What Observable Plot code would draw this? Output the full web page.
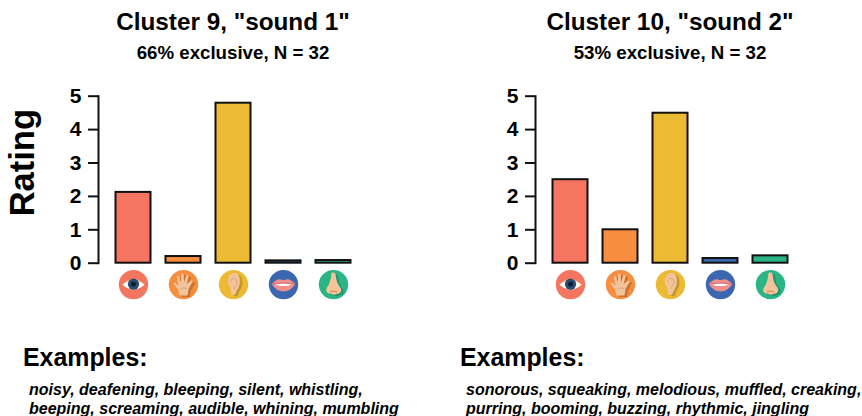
<!DOCTYPE html>
<html><head><meta charset="utf-8">
<script src="https://cdn.jsdelivr.net/npm/d3@7"></script>
<script src="https://cdn.jsdelivr.net/npm/@observablehq/plot@0.6"></script>
<style>
html,body{margin:0;padding:0;background:#fff}
#chart{position:relative;width:862px;height:416px;overflow:hidden;font-family:"Liberation Sans",Arial,sans-serif;color:#000}
.panel{position:absolute;top:0;width:425px;height:416px}
.panel svg{position:absolute;left:0;top:0}
.t{position:absolute;white-space:nowrap;font-weight:bold}
.title{left:0;width:466px;text-align:center;top:8px;font-size:24.3px;line-height:28px}
.sub{left:0;width:466px;text-align:center;top:42px;font-size:18.7px;line-height:22px}
.ex{left:23px;top:343px;font-size:24.9px;line-height:28px}
.words{left:29px;top:380px;font-size:16px;line-height:19px;font-style:italic}
</style></head><body><div id="chart"></div>
<script>
const senses = ["sight","touch","hearing","taste","smell"];
const senseColors = ["#F47560","#F68D3F","#EDBB33","#3B66B0","#2BB585"];
const sound1 = [2.12,0.2,4.79,0.07,0.08];
const sound2 = [2.5,1.0,4.49,0.14,0.22];
const titles = ['Cluster 9, "sound 1"','Cluster 10, "sound 2"'];
const subtitles = ['66% exclusive, N = 32','53% exclusive, N = 32'];
const examples = [
 ["noisy, deafening, bleeping, silent, whistling,","beeping, screaming, audible, whining, mumbling"],
 ["sonorous, squeaking, melodious, muffled, creaking,","purring, booming, buzzing, rhythmic, jingling"]
];
const skin="#F3C39B", skinD="#D6915F";
const handPath="M11 26L9.5 20L5 14L6.6 12.8L10 15.8L8.2 6.8L10.2 6.2L12.4 13L12.8 4L15 4L15.6 13L18 5.2L20 6L18.2 14.5L23 10.6L24.2 12L20 19.5L19 26Z";
const earPath="M16 3.5C11 3.5 9 8.5 9.6 13C10.2 17 12.8 18 12.4 22.5C12.2 26 16.2 26.8 17.4 23.2C18.4 19.5 21.4 17.5 21.4 12C21.4 7 19.8 3.5 16 3.5Z";
const nosePath="M13 3.5C15 2.5 17 3 17.2 5.5C17.6 11 19 14.5 21.8 18C24 21 21.8 24.5 19 24C17.5 25.5 13.5 25.5 12 24C9 24.5 6.6 21.5 8.2 18.5C11 15 12.4 10 13 3.5Z";
const shadow=d=>`<path d="${d}" transform="translate(2.5 1.5)" fill="#000" opacity=".18"/>`;
const glyphs = {
 sight:`<path d="M4 15Q15 4 26 15Q15 25 4 15Z" fill="#E9D3A8"/><path d="M4 15Q15 8 26 15Q15 25 4 15Z" fill="#fff"/><circle cx="15" cy="14.6" r="5.6" fill="#2A4A6E"/><circle cx="15" cy="14.6" r="2.4" fill="#0F1C2B"/>`,
 touch:shadow(handPath)+`<path d="${handPath}" fill="${skin}"/><path d="M11.5 20Q15 17 18.5 19" fill="none" stroke="${skinD}" stroke-width=".6"/>`,
 hearing:shadow(earPath)+`<path d="${earPath}" fill="${skin}"/><path d="M12.4 12C12.4 8 18.2 7.5 18.4 12C18.6 15.5 15.8 16 15.8 19.5" fill="none" stroke="#E0A77A" stroke-width="1"/>`,
 taste:`<path d="M3 14.5Q9 8.5 12.5 10Q15 11 17.5 10Q21 8.5 27 14.5Q22 22 15 22Q8 22 3 14.5Z" fill="#EE8F8C"/><path d="M6 14.6Q15 13.2 24 14.6Q15 18.4 6 14.6Z" fill="#fff"/><path d="M3 14.5Q15 12.5 27 14.5" fill="none" stroke="#B9504F" stroke-width=".6"/>`,
 smell:shadow(nosePath)+`<path d="${nosePath}" fill="${skin}"/><path d="M11.5 22.5Q15 20.5 18.5 22.5" fill="none" stroke="${skinD}" stroke-width="1.1"/>`
};
const iconUrl = s => "data:image/svg+xml;utf8," + encodeURIComponent(`<svg xmlns="http://www.w3.org/2000/svg" viewBox="0 0 30 30" width="30" height="30">${glyphs[s]}</svg>`);

function panel(i, values, showY){
  const rows = senses.map((s,k)=>({sense:s,color:senseColors[k],value:values[k]}));
  const marks = [
    Plot.barY(rows,{x:"sense",y:"value",fill:"color",stroke:"#111",strokeWidth:2,dx:-0.5}),
    Plot.axisY({ticks:[0,1,2,3,4,5],label:null,tickSize:10,tickPadding:7,fontSize:21,fontWeight:"bold",strokeWidth:2,stroke:"#111",fill:"#000",tickFormat:d=>d}),
    Plot.frame({anchor:"left",stroke:"#111",strokeWidth:2}),
    Plot.dot(rows,{x:"sense",y:()=>-0.64,r:14.7,fill:"color",dx:-0.5}),
    Plot.image(rows,{x:"sense",y:()=>-0.64,width:30,height:30,src:d=>iconUrl(d.sense),dx:-0.5})
  ];
  if(showY) marks.push(Plot.text(["Rating"],{frameAnchor:"left",textAnchor:"middle",dx:-76,dy:-17,rotate:-90,fontSize:34.5,fontWeight:"bold",fill:"#000"}));
  const svg = Plot.plot({
    width:425,height:320,marginLeft:98,marginRight:66,marginTop:95.7,marginBottom:57.3,
    style:{fontFamily:'"Liberation Sans",Arial,sans-serif',background:"transparent",overflow:"visible"},
    x:{type:"band",domain:senses,range:[108,358.5],paddingInner:.31,paddingOuter:.155,axis:null},
    y:{domain:[0,5],axis:null},
    marks
  });
  const p=document.createElement("div");p.className="panel";p.style.left=(i*437)+"px";
  p.appendChild(svg);
  const add=(c,h)=>{const d=document.createElement("div");d.className="t "+c;d.innerHTML=h;p.appendChild(d)};
  add("title",titles[i]);add("sub",subtitles[i]);add("ex","Examples:");add("words",examples[i].join("<br>"));
  document.getElementById("chart").appendChild(p);
}
panel(0,sound1,true);
panel(1,sound2,false);
</script></body></html>
